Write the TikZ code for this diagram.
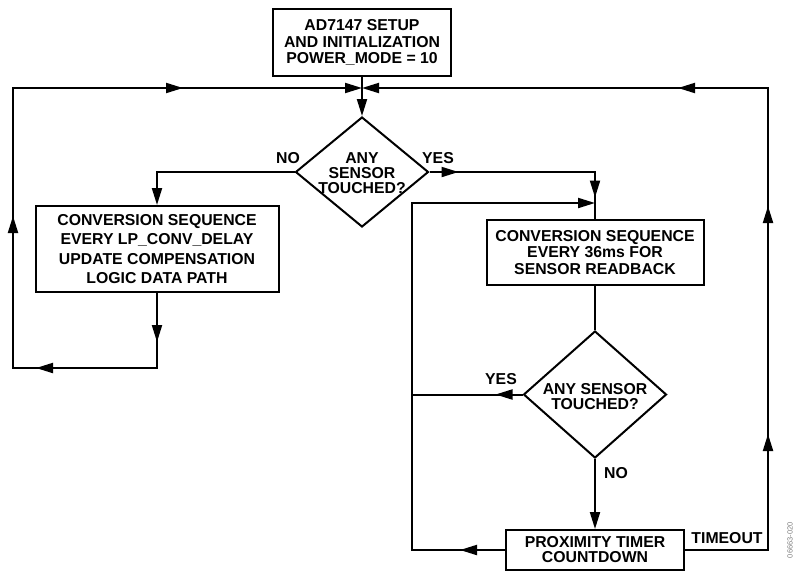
\documentclass[tikz,border=0pt]{standalone}
\usepackage{fontspec}
\setmainfont{Liberation Sans}
\usetikzlibrary{arrows.meta,shapes.geometric,decorations.markings}
\newcommand{\txtfont}{\fontsize{15.8}{16.2}\selectfont\bfseries}
\begin{document}
\begin{tikzpicture}[x=1pt,y=-1pt,
  >={Triangle[length=17pt,width=10pt]},
  line/.style={line width=2pt, line join=miter},
  box/.style={draw, line width=2pt, rectangle, inner sep=0pt, align=center, font=\txtfont},
  dia/.style={draw, diamond, line width=2pt, inner sep=0pt},
  dtxt/.style={inner sep=0pt, align=center, font=\fontsize{15.8}{15}\selectfont\bfseries},
  lbl/.style={inner sep=0pt, font=\txtfont},
  mid/.style={postaction={decorate, decoration={markings, mark=at position #1 with {\arrow{>}}}}}
]
\useasboundingbox (0,0) rectangle (794,571);

% nodes
\node[box, minimum width=178pt, minimum height=67pt] (top) at (362,42.5)
  {AD7147 SETUP\\AND INITIALIZATION\\POWER\_MODE = 10};
\node[dia, minimum width=133pt, minimum height=110pt] (d1) at (362,172) {};
\node[dtxt] (d1t) at (362,173) {ANY\\SENSOR\\TOUCHED?};
\node[box, minimum width=243pt, minimum height=86pt,
  font=\fontsize{15.8}{19.4}\selectfont\bfseries] (lbox) at (157,249)
  {CONVERSION SEQUENCE\\EVERY LP\_CONV\_DELAY\\UPDATE COMPENSATION\\LOGIC DATA PATH};
\node[box, minimum width=217pt, minimum height=65pt] (rbox) at (595,252.5)
  {CONVERSION SEQUENCE\\EVERY 36ms FOR\\SENSOR READBACK};
\node[dia, minimum width=143pt, minimum height=127pt] (d2) at (595,394.5) {};
\node[dtxt] (d2t) at (595,397) {ANY SENSOR\\TOUCHED?};
\node[box, minimum width=178pt, minimum height=40pt, font=\fontsize{15.8}{15}\selectfont\bfseries] (bbox) at (595,550)
  {PROXIMITY TIMER\\COUNTDOWN};

% coordinates
\coordinate (cL) at (13,88);
\coordinate (cR) at (768,88);
\coordinate (cM) at (362,88);
\coordinate (cLB) at (157,368);
\coordinate (cLL) at (13,368);
\coordinate (cBR) at (768,550);
\coordinate (cY) at (412,394.5);
\coordinate (cBL) at (412,550);
\coordinate (cTL) at (412,203);
\coordinate (cTR) at (595,203);

% connectors
\draw[line,->] (top.south) -- (d1.north);
\draw[line,->,mid=49pt,mid=196pt,mid=371pt,mid=669pt] (lbox.south) -- (cLB) -- (cLL) -- (cL) -- (cM);
\draw[line,->] (d1.west) -| (lbox.north);
\draw[line,->,mid=199pt,mid=427pt,mid=635pt] (bbox.east) -- (cBR) -- (cR) -- (cM);
\draw[line,mid=29pt,mid=191pt] (d1.east) -| (rbox.north);
\draw[line] (rbox.south) -- (d2.north);
\draw[line,mid=27pt] (d2.west) -- (cY);
\draw[line,->,mid=45pt] (bbox.west) -- (cBL) -- (cTL) -- (cTR);
\draw[line,->] (d2.south) -- (bbox.north);

% labels
\node[lbl] (noA) at (288,158) {NO};
\node[lbl] (yesA) at (438,158) {YES};
\node[lbl] (yesB) at (501,379) {YES};
\node[lbl] (noB) at (616,473) {NO};
\node[lbl] (tmo) at (727,538) {TIMEOUT};
\node[inner sep=0pt, rotate=90, anchor=east, text=gray, font=\fontsize{7.5}{8}\selectfont] (fig) at (790,522) {06663-020};
\end{tikzpicture}
\end{document}
